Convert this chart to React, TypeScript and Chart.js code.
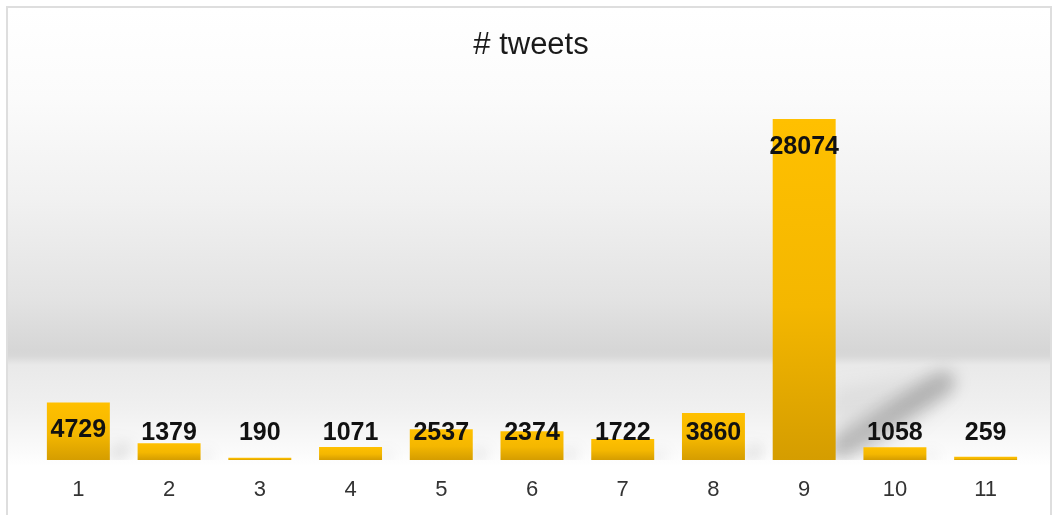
import React, { useEffect, useRef } from "react";
import { Chart, registerables } from "chart.js";

Chart.register(...registerables);

const categories = ["1", "2", "3", "4", "5", "6", "7", "8", "9", "10", "11"];
const tweets = [4729, 1379, 190, 1071, 2537, 2374, 1722, 3860, 28074, 1058, 259];
const chartTitle = "# tweets";
const yMax = 31284;

const FONT = '"Liberation Sans", Arial, sans-serif';

const titlePlugin = {
  id: "customTitle",
  afterDraw(chart: any) {
    const ctx = chart.ctx;
    ctx.save();
    ctx.font = `31px ${FONT}`;
    ctx.fillStyle = "#1a1a1a";
    ctx.textAlign = "center";
    ctx.textBaseline = "alphabetic";
    ctx.fillText(chartTitle, 531, 54);
    ctx.restore();
  },
};

const shadowPlugin = {
  id: "barShadow",
  beforeDatasetsDraw(chart: any) {
    const ctx = chart.ctx;
    const area = chart.chartArea;
    const meta = chart.getDatasetMeta(0);
    ctx.save();
    ctx.beginPath();
    ctx.rect(area.left, area.top, area.right - area.left, area.bottom - area.top);
    ctx.clip();
    meta.data.forEach((bar: any) => {
      const h = bar.base - bar.y;
      if (h < 10) return;
      const f = h / 341;
      const right = bar.x + bar.width / 2;
      // soft wedge
      ctx.filter = "blur(10px)";
      ctx.fillStyle = "rgba(0,0,0,0.07)";
      ctx.beginPath();
      ctx.moveTo(right - 4, bar.base);
      ctx.lineTo(right - 4, bar.base - Math.min(h, 65 * f + 5));
      ctx.lineTo(right + 100 * f, bar.base - 85 * f);
      ctx.lineTo(right + 120 * f, bar.base - 72 * f);
      ctx.lineTo(right + 40 * f, bar.base);
      ctx.closePath();
      ctx.fill();
      // darker diagonal band
      ctx.filter = "blur(8px)";
      ctx.strokeStyle = "rgba(0,0,0,0.2)";
      ctx.lineWidth = Math.max(6, 24 * f);
      ctx.lineCap = "round";
      ctx.beginPath();
      ctx.moveTo(right + 4, bar.base - 12 * f);
      ctx.lineTo(right + 108 * f, bar.base - 78 * f);
      ctx.stroke();
    });
    ctx.restore();
  },
};

const labelPlugin = {
  id: "barLabels",
  afterDatasetsDraw(chart: any) {
    const ctx = chart.ctx;
    const meta = chart.getDatasetMeta(0);
    const data = chart.data.datasets[0].data;
    ctx.save();
    ctx.font = `bold 25px ${FONT}`;
    ctx.fillStyle = "#111";
    ctx.textAlign = "center";
    ctx.textBaseline = "middle";
    meta.data.forEach((bar: any, i: number) => {
      const y = Math.min(bar.y + 28, bar.base - 27);
      ctx.fillText(String(data[i]), bar.x, y);
    });
    ctx.restore();
  },
};

export default function App() {
  const ref = useRef<HTMLCanvasElement | null>(null);

  useEffect(() => {
    document.body.style.overflow = "hidden";
    const canvas = ref.current;
    if (!canvas) return;
    const chart = new Chart(canvas, {
      type: "bar",
      data: {
        labels: categories,
        datasets: [
          {
            data: tweets,
            backgroundColor: (c: any) => {
              const chart = c.chart;
              const ys = chart.scales.y;
              if (!ys || c.dataIndex === undefined) return "#ffc000";
              const top = ys.getPixelForValue(c.raw);
              const base = ys.getPixelForValue(0);
              if (!isFinite(top) || !isFinite(base) || base - top < 1) return "#f5b800";
              const g = chart.ctx.createLinearGradient(0, top, 0, base);
              g.addColorStop(0, "#ffc000");
              g.addColorStop(0.55, "#f4b700");
              g.addColorStop(1, "#d59d00");
              return g;
            },
            borderWidth: 0,
            barPercentage: 0.694,
            categoryPercentage: 1,
          },
        ],
      },
      options: {
        responsive: false,
        animation: false,
        layout: { padding: { top: 80, left: 33, right: 24, bottom: 20 } },
        plugins: {
          legend: { display: false },
          title: { display: false },
          tooltip: { enabled: false },
        },
        scales: {
          x: {
            grid: { display: false, drawTicks: false },
            border: { display: false },
            ticks: {
              padding: 16.8,
              color: "#333",
              font: { family: FONT, size: 22, lineHeight: 1.2 },
            },
          },
          y: {
            display: false,
            min: 0,
            max: yMax,
          },
        },
      },
      plugins: [shadowPlugin, labelPlugin, titlePlugin],
    });
    return () => chart.destroy();
  }, []);

  return (
    <>
      <div
        style={{
          position: "fixed",
          left: 6,
          top: 6,
          width: 1046,
          height: 530,
          boxSizing: "border-box",
          border: "2px solid #dedede",
          background:
            "linear-gradient(to bottom, #ffffff 0px, #fbfbfb 90px, #f1f1f1 190px, #e3e3e3 290px, #d6d6d6 342px, #d8d8d8 348px, #e9e9e9 357px, #f0f0f0 400px, #fbfbfb 445px, #ffffff 458px, #ffffff 530px)",
        }}
      />
      <canvas
        ref={ref}
        width={1055}
        height={540}
        style={{ position: "fixed", left: 0, top: 0, display: "block", width: 1055, height: 540 }}
      />
    </>
  );
}
